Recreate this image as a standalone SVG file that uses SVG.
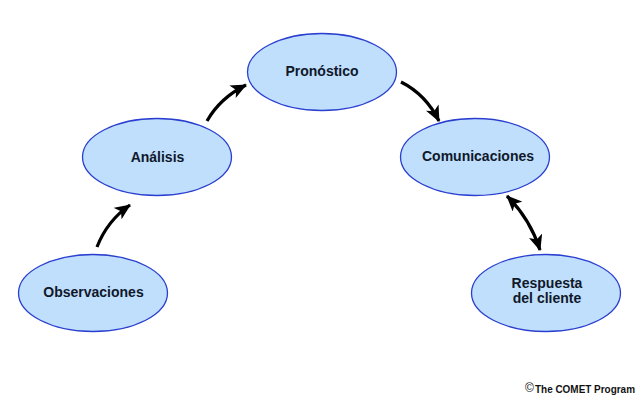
<svg xmlns="http://www.w3.org/2000/svg" width="640" height="400" viewBox="0 0 640 400">
<style>
.n{fill:#bfdffd;stroke:#2a3fd0;stroke-width:1.3}
.t{font-family:"Liberation Sans",Arial,sans-serif;font-weight:bold;font-size:14px;fill:#10182a;text-anchor:middle}
.c{fill:none;stroke:#000;stroke-width:3.200}
.h{fill:#000}
</style>
<defs>
<marker id="a" viewBox="0 0 16 14" refX="15" refY="7" markerWidth="16" markerHeight="14" markerUnits="userSpaceOnUse" orient="auto-start-reverse"><path class="h" d="M0 0L16 7L0 14L4 7Z"/></marker>
</defs>
<rect width="640" height="400" fill="#fff"/>
<g id="connectors">
<path class="c" marker-end="url(#a)" d="M97 247C104 229 114 216 130 205"/>
<path class="c" marker-end="url(#a)" d="M207 121C216 105 228 94 246 85"/>
<path class="c" marker-end="url(#a)" d="M401 82C417 90 430 103 439 121"/>
<path class="c" marker-start="url(#a)" marker-end="url(#a)" d="M507 196C522 211 533 228 540 250"/>
</g>
<g id="node-observaciones"><ellipse class="n" cx="93" cy="293" rx="74.500" ry="38.500"/><text class="t" x="93.500" y="297">Observaciones</text></g>
<g id="node-analisis"><ellipse class="n" cx="157" cy="157" rx="74.500" ry="38.500"/><text class="t" x="157.500" y="162">Análisis</text></g>
<g id="node-pronostico"><ellipse class="n" cx="322" cy="72" rx="74.500" ry="38.500"/><text class="t" x="322" y="76">Pronóstico</text></g>
<g id="node-comunicaciones"><ellipse class="n" cx="475" cy="157" rx="74.500" ry="38.500"/><text class="t" x="478" y="161">Comunicaciones</text></g>
<g id="node-respuesta"><ellipse class="n" cx="546" cy="293" rx="74.500" ry="38.500"/><text class="t" x="547" y="288">Respuesta</text><text class="t" x="547" y="303">del cliente</text></g>
<text x="525" y="392" style="font-family:'Liberation Sans',Arial,sans-serif;font-weight:normal;font-size:12px;fill:#111">©</text>
<text x="635" y="393" text-anchor="end" textLength="100" lengthAdjust="spacingAndGlyphs" style="font-family:'Liberation Sans',Arial,sans-serif;font-weight:bold;font-size:10.500px;fill:#111">The COMET Program</text>
</svg>
